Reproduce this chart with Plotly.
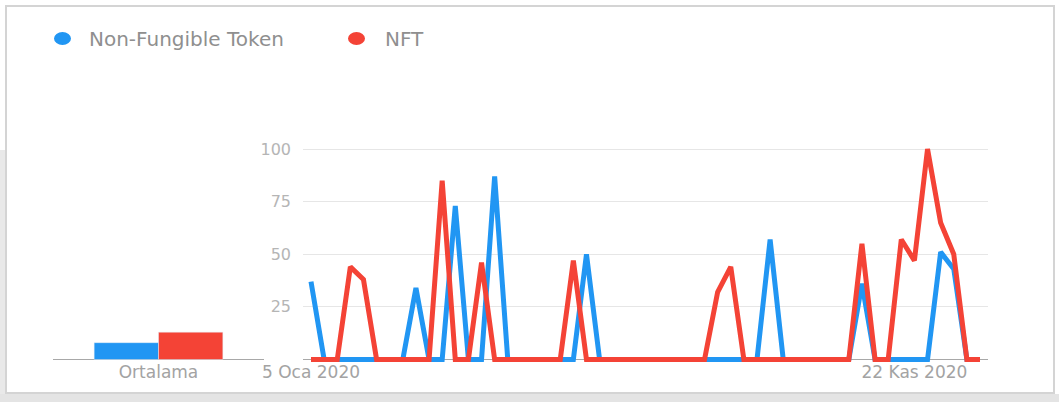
import pandas as pd
import plotly.graph_objects as go
from datetime import timedelta

# ---- data ----
weeks = pd.date_range("2020-01-05", periods=52, freq="7D")
non_fungible_token = [37, 0, 0, 0, 0, 0, 0, 0, 34, 0, 0, 73, 0, 0, 87, 0, 0, 0, 0, 0,
                      0, 50, 0, 0, 0, 0, 0, 0, 0, 0, 0, 0, 0, 0, 0, 57, 0, 0, 0, 0,
                      0, 0, 36, 0, 0, 0, 0, 0, 51, 43, 0, 0]
nft = [0, 0, 0, 44, 38, 0, 0, 0, 0, 0, 85, 0, 0, 46, 0, 0, 0, 0, 0, 0,
       47, 0, 0, 0, 0, 0, 0, 0, 0, 0, 0, 32, 44, 0, 0, 0, 0, 0, 0, 0,
       0, 0, 55, 0, 0, 57, 47, 100, 65, 50, 0, 0]
avg_category = ["Ortalama"]
avg_non_fungible_token = [8]
avg_nft = [13]
x_tick_dates = [weeks[0], weeks[46]]
x_tick_labels = ["5 Oca 2020", "22 Kas 2020"]
y_tick_vals = [25, 50, 75, 100]
series_names = ["Non-Fungible Token", "NFT"]

BLUE = "#2196f3"
RED = "#f44336"
W, H = 1059, 402
FONT = "DejaVu Sans"

def px(x):
    return x / W

def py(y):
    return 1 - y / H

fig = go.Figure()
fig.add_trace(go.Bar(x=avg_category, y=avg_non_fungible_token, name=series_names[0],
                     marker_color=BLUE, xaxis="x2", yaxis="y2", showlegend=False))
fig.add_trace(go.Bar(x=avg_category, y=avg_nft, name=series_names[1],
                     marker_color=RED, xaxis="x2", yaxis="y2", showlegend=False))
fig.add_trace(go.Scatter(x=weeks, y=non_fungible_token, name=series_names[0], mode="lines",
                         line=dict(color=BLUE, width=5), showlegend=False))
fig.add_trace(go.Scatter(x=weeks, y=nft, name=series_names[1], mode="lines",
                         line=dict(color=RED, width=5), showlegend=False))

# pixel geometry
x_first, x_last = 311, 980
step = (x_last - x_first) / 51.0
grid_left, grid_right = 303, 988
days_left = (x_first - grid_left) / step * 7
days_right = (grid_right - x_last) / step * 7
y0_px, y100_px = 359.5, 149.0
ppu = (y0_px - y100_px) / 100.0
ymin, ymax = -2, 102
ydom = [py(y0_px + (0 - ymin) * ppu), py(y100_px - (ymax - 100) * ppu)]

tick_font = dict(family=FONT, size=17, color="#a3a3a3")

fig.update_layout(
    width=W, height=H,
    margin=dict(l=0, r=0, t=0, b=0, pad=0),
    paper_bgcolor="white", plot_bgcolor="white",
    barmode="group", bargap=0.39, bargroupgap=0,
    showlegend=False,
    xaxis=dict(domain=[px(grid_left), px(grid_right)], automargin=False,
               range=[weeks[0] - timedelta(days=days_left), weeks[-1] + timedelta(days=days_right)],
               tickvals=x_tick_dates, ticktext=x_tick_labels, tickfont=tick_font,
               showgrid=False, zeroline=False, showline=False, ticks="",
               ticklabelstandoff=-4),
    yaxis=dict(domain=ydom, range=[ymin, ymax], tickvals=y_tick_vals, automargin=False,
               tickfont=dict(family=FONT, size=16, color="#b5b5b5"),
               showgrid=True, gridcolor="#e6e6e6", gridwidth=1,
               zeroline=True, zerolinecolor="#a8a8a8", zerolinewidth=1,
               showline=False, ticks="", ticklabelstandoff=11),
    xaxis2=dict(domain=[px(53), px(264)], anchor="y2", range=[-0.5, 0.5], automargin=False,
                tickfont=tick_font, showgrid=False, zeroline=False, ticks="",
                ticklabelstandoff=-4),
    yaxis2=dict(domain=ydom, range=[ymin, ymax], anchor="x2", showgrid=False, automargin=False,
                showticklabels=False, zeroline=True, zerolinecolor="#a8a8a8",
                zerolinewidth=1, showline=False, ticks=""),
)

shapes = []
# frame / screenshot border
shapes.append(dict(type="rect", xref="paper", yref="paper", x0=px(0), x1=px(8), y0=py(402), y1=py(150),
                   fillcolor="#e9e9e9", line=dict(width=0), layer="below"))
shapes.append(dict(type="rect", xref="paper", yref="paper", x0=px(0), x1=px(W), y0=py(402), y1=py(394),
                   fillcolor="#e4e4e4", line=dict(width=0), layer="below"))
shapes.append(dict(type="rect", xref="paper", yref="paper", x0=px(6), x1=px(1054), y0=py(393), y1=py(6),
                   fillcolor="white", line=dict(color="#d4d4d4", width=2), layer="below"))
# legend dots
shapes.append(dict(type="circle", xref="paper", yref="paper", x0=px(54), x1=px(71), y0=py(45), y1=py(32),
                   fillcolor=BLUE, line=dict(width=0)))
shapes.append(dict(type="circle", xref="paper", yref="paper", x0=px(348), x1=px(365), y0=py(45), y1=py(32),
                   fillcolor=RED, line=dict(width=0)))
fig.update_layout(shapes=shapes)

leg_font = dict(family=FONT, size=20, color="#8f8f8f")
fig.add_annotation(x=px(87), y=py(38.5), xref="paper", yref="paper", text=series_names[0],
                   showarrow=False, xanchor="left", yanchor="middle", font=leg_font)
fig.add_annotation(x=px(383), y=py(38.5), xref="paper", yref="paper", text=series_names[1],
                   showarrow=False, xanchor="left", yanchor="middle", font=leg_font)

fig.write_html("out.html", config={"displayModeBar": False},
               post_script="document.body.style.margin='0';")
